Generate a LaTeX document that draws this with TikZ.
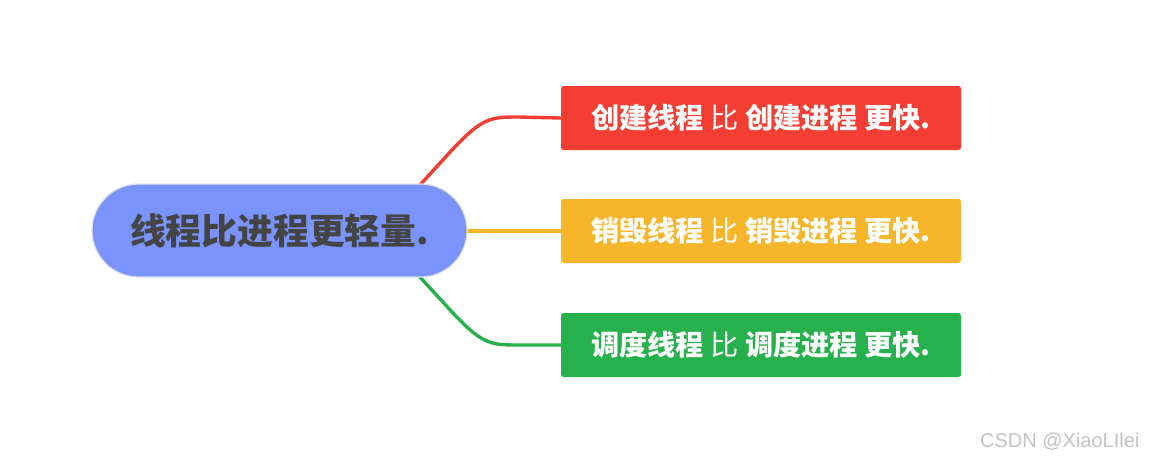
\documentclass[tikz,border=0pt]{standalone}
\usepackage{fontspec}
\setmainfont{Noto Sans CJK SC}
\newfontfamily\cjk{Noto Sans CJK SC}
\newfontfamily\wmfont{Liberation Sans}
\definecolor{cred}{HTML}{F53E33}
\definecolor{cyel}{HTML}{F7B52A}
\definecolor{cgrn}{HTML}{27B14C}
\definecolor{cblue}{HTML}{7B93FD}
\definecolor{ctext}{HTML}{444444}
\definecolor{cwm}{HTML}{C4C4C4}
\tikzset{
  leaf/.style={rounded corners=2.5pt, minimum width=400pt, minimum height=64pt, inner sep=0pt, text=white, font=\cjk\fontsize{28.2}{30}\selectfont\bfseries},
  conn/.style={line width=3.4pt},
}
\begin{document}
\begin{tikzpicture}[x=1pt,y=-1pt]
\useasboundingbox[fill=white] (0,0) rectangle (1150,461);
% connectors start points
\coordinate (rs) at (419,186);
\coordinate (gs) at (419,276);
\coordinate (ys) at (466,231);
% leaves
\node[leaf, fill=cred] (r) at (761,118) {创建线程 \mdseries 比 \bfseries 创建进程 更快.};
\node[leaf, fill=cyel] (y) at (761,231) {销毁线程 \mdseries 比 \bfseries 销毁进程 更快.};
\node[leaf, fill=cgrn] (g) at (761,345) {调度线程 \mdseries 比 \bfseries 调度进程 更快.};
\draw[conn, cred] (rs) -- (452,150) .. controls (482,118) and (490,117) .. (518,117) -- (r.west);
\draw[conn, cgrn] (gs) -- (452,312) .. controls (482,344) and (490,345) .. (518,345) -- (g.west);
\draw[conn, cyel] (ys) -- (y.west);
% central
\node[draw=black!12, line width=1.2pt, fill=cblue, rounded corners=46.5pt, minimum width=375pt, minimum height=93pt, inner sep=0pt, text=ctext, font=\cjk\fontsize{35.8}{38}\selectfont\bfseries] (c) at (279.5,230.5) {线程比进程更轻量.};
% watermark
\node[anchor=west, inner sep=0pt, text=cwm, font=\wmfont\fontsize{20}{22}\selectfont] (wm) at (980,442) {CSDN @XiaoLIlei};
\end{tikzpicture}
\end{document}
